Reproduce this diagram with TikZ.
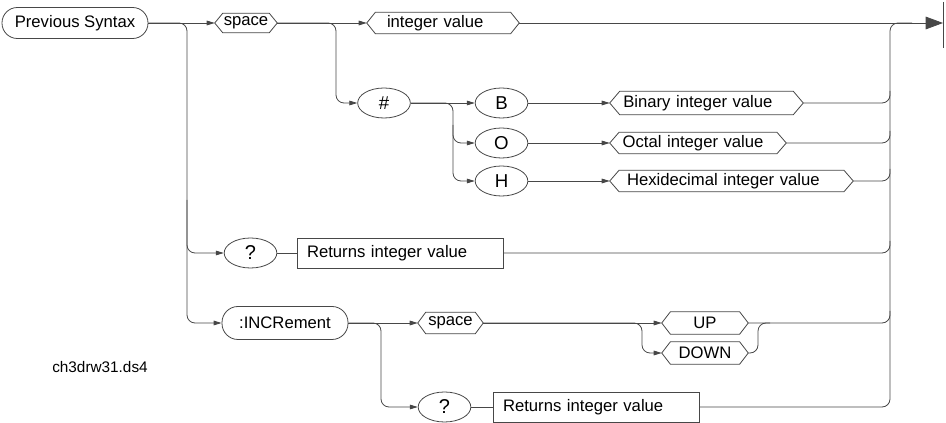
\documentclass[tikz,border=0pt]{standalone}
\usepackage{fontspec}
\setmainfont{Liberation Sans}
\usetikzlibrary{shapes.geometric,arrows.meta,calc}
\begin{document}
\begin{tikzpicture}[x=0.75pt,y=-0.75pt,
  every node/.style={font=\fontsize{12.5pt}{15pt}\selectfont, text=black},
  ln/.style={draw=black!72, line width=0.6pt},
  arr/.style={ln, -{Triangle[length=6pt,width=3.5pt]}},
  rc/.style={rounded corners=6pt},
  pill/.style={ln, rectangle, inner sep=0pt},
  oval/.style={ln, ellipse, inner sep=0pt, minimum width=39.5pt, minimum height=22.5pt, font=\fontsize{14pt}{16pt}\selectfont},
  qoval/.style={oval, font=\fontsize{15pt}{17pt}\selectfont},
  hexn/.style={inner sep=0pt, minimum height=#1},
  boxn/.style={ln, rectangle, inner sep=0pt, inner xsep=7.5pt, text width=139.5pt, minimum height=22.5pt, align=left}
]
\useasboundingbox (0,0) rectangle (946,423);

% nodes
\node[pill, rounded corners=11.5pt, minimum width=109.5pt, minimum height=23.25pt] (prev) at (75,23) {Previous Syntax};
\node[hexn=14.25pt, minimum width=46.5pt] (sp1) at (246,23) {space};
\node[hexn=15.75pt, inner xsep=15pt, text width=84pt, align=left] (iv) at (443,23) {integer value};
\node[oval] (hash) at (384,103) {\#};
\node[oval] (B) at (501.5,103) {B};
\node[hexn=17.25pt, inner xsep=10pt, text width=124.75pt, align=left] (binv) at (706.5,103) {Binary integer value};
\node[oval] (O) at (501.5,143) {O};
\node[hexn=15.75pt, inner xsep=9.5pt, text width=113pt, align=left] (octv) at (698,143) {Octal integer value};
\node[oval] (H) at (501.5,181) {H};
\node[hexn=15.75pt, inner xsep=12.75pt, text width=156.75pt, align=left] (hexv) at (731.5,181) {Hexidecimal integer value};
\node[qoval] (q1) at (250.5,253) {?};
\node[boxn] (ret1) at (400,253) {Returns integer value};
\node[pill, rounded corners=12pt, minimum width=94.5pt, minimum height=24.75pt] (inc) at (285,323) {:INCRement};
\node[hexn=15.75pt, minimum width=48.75pt] (sp2) at (450.5,323) {space};
\node[hexn=16.5pt, minimum width=64.5pt] (up) at (705,323) {UP};
\node[hexn=16.5pt, minimum width=64.5pt] (down) at (705,353) {DOWN};
\node[qoval] (q2) at (444.5,407) {?};
\node[boxn] (ret2) at (596,407) {Returns integer value};
\node[font=\fontsize{11.5pt}{14pt}\selectfont] (fn) at (100,367) {ch3drw31.ds4};

% hexagon outlines
\foreach \n/\d in {sp1/6pt, iv/6.5pt, binv/7.5pt, octv/7pt, hexv/7pt, sp2/6pt, up/6.5pt, down/6.5pt}
  \draw[ln] (\n.west) -- ([xshift=\d]\n.north west) -- ([xshift=-\d]\n.north east)
    -- (\n.east) -- ([xshift=-\d]\n.south east) -- ([xshift=\d]\n.south west) -- cycle;

% junction coordinates
\coordinate (ja) at (187,23);
\coordinate (ja2) at (187,200);
\coordinate (jb) at (336,23);
\coordinate (jc) at (453,103);
\coordinate (jc2) at (453,125);
\coordinate (jd) at (381,323);
\coordinate (je) at (642,323);
\coordinate (jf) at (758,323);
\coordinate (col) at (890,23);
\coordinate (colr) at (912,23);
\coordinate (endp) at (943,23);
\coordinate (bart) at (943,2);
\coordinate (barb) at (943,48);

% connectors
\draw[arr] (prev.east) -- (sp1.west);
\draw[arr,rc] (prev.east) -| (ja |- inc.west) -- (inc.west);
\draw[arr,rc] (ja2) |- (q1.west);
\draw[arr] (sp1.east) -- (iv.west);
\draw[arr,rc] (sp1.east) -| (jb |- hash.west) -- (hash.west);
\draw[ln,-{Triangle[length=13pt,width=9.5pt]}] (iv.east) -- (endp);
\draw[ln] (bart) -- (barb);
\draw[arr] (hash.east) -- (B.west);
\draw[arr,rc] (hash.east) -| (jc |- H.west) -- (H.west);
\draw[arr,rc] (jc2) |- (O.west);
\draw[arr] (B.east) -- (binv.west);
\draw[arr] (O.east) -- (octv.west);
\draw[arr] (H.east) -- (hexv.west);
\draw[ln] (q1.east) -- (ret1.west);
\draw[arr] (inc.east) -- (sp2.west);
\draw[arr,rc] (inc.east) -| (jd |- q2.west) -- (q2.west);
\draw[ln] (q2.east) -- (ret2.west);
\draw[arr] (sp2.east) -- (up.west);
\draw[arr,rc] (sp2.east) -| (je |- down.west) -- (down.west);
\draw[ln,rc] (down.east) -| (jf) -- ++(12,0);

% collector
\draw[ln,rc] (ret2.east) -| (col) -- (colr);
\draw[ln,rc] (binv.east) -| ($(col |- binv.east)+(0,-12)$);
\draw[ln,rc] (octv.east) -| ($(col |- octv.east)+(0,-12)$);
\draw[ln,rc] (hexv.east) -| ($(col |- hexv.east)+(0,-12)$);
\draw[ln,rc] (ret1.east) -| ($(col |- ret1.east)+(0,-12)$);
\draw[ln,rc] (up.east) -| ($(col |- up.east)+(0,-12)$);
\end{tikzpicture}
\end{document}
